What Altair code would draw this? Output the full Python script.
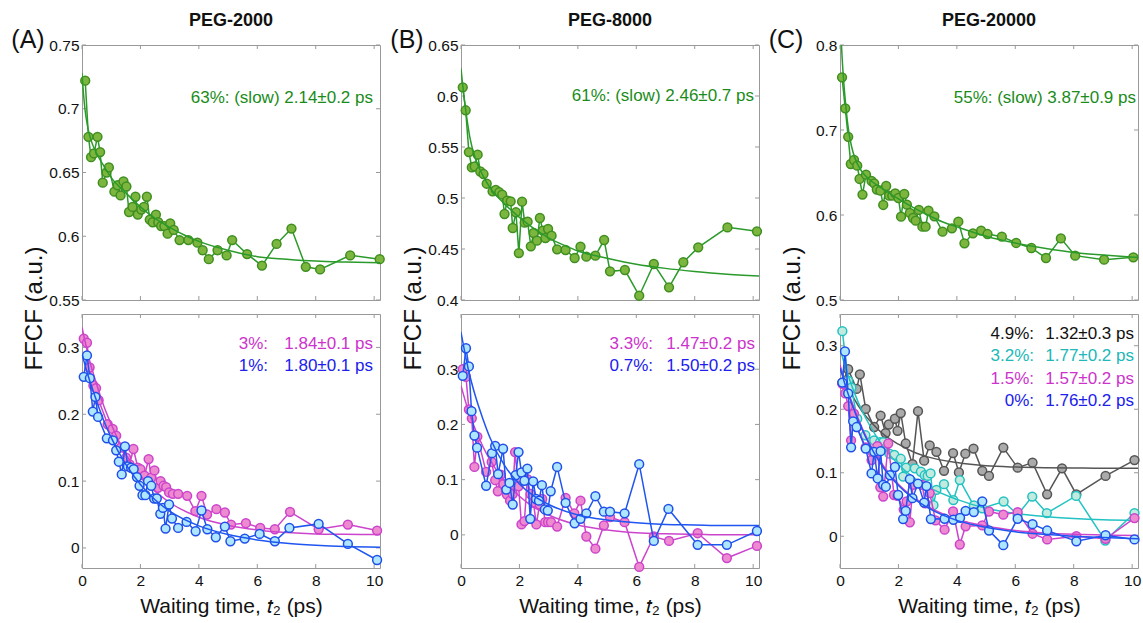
import altair as alt
import pandas as pd

# ---------------- PEG-2000 ----------------
a_slow_t = [0.11, 0.22, 0.31, 0.41, 0.53, 0.62, 0.71, 0.84, 0.92, 1.11, 1.22, 1.32, 1.42, 1.52, 1.61,
            1.73, 1.83, 1.91, 2.03, 2.12, 2.22, 2.32, 2.42, 2.53, 2.61, 2.71, 2.82, 2.93, 3.02, 3.14,
            3.34, 3.64, 3.95, 4.13, 4.34, 4.64, 4.95, 5.14, 5.65, 6.16, 6.66, 7.17, 7.66, 8.15, 9.18, 10.19]
a_slow_v = [0.722, 0.678, 0.662, 0.665, 0.678, 0.666, 0.642, 0.650, 0.654, 0.635, 0.640, 0.632, 0.643, 0.639, 0.619,
            0.623, 0.631, 0.617, 0.621, 0.623, 0.631, 0.613, 0.611, 0.617, 0.611, 0.608, 0.608, 0.602, 0.610, 0.605,
            0.597, 0.597, 0.595, 0.589, 0.582, 0.589, 0.585, 0.597, 0.586, 0.577, 0.594, 0.606, 0.576, 0.574, 0.585, 0.582]
a_slow_fit_t = [0, 0.05, 0.1, 0.2, 0.3, 0.5, 0.75, 1, 1.5, 2, 2.5, 3, 3.5, 4, 5, 6, 7, 8, 9, 10.2]
a_slow_fit_v = [0.728, 0.712, 0.700, 0.685, 0.676, 0.665, 0.655, 0.646, 0.634, 0.623, 0.614, 0.607, 0.601, 0.596,
                0.589, 0.584, 0.582, 0.5805, 0.5798, 0.5793]

a_3_t = [0.06, 0.17, 0.26, 0.39, 0.48, 0.57, 0.88, 1.05, 1.17, 1.32, 1.51, 1.63, 1.76, 1.91, 2.0,
         2.14, 2.28, 2.37, 2.48, 2.6, 2.69, 2.79, 2.88, 2.98, 3.11, 3.29, 3.6, 3.88, 4.09, 4.28,
         4.6, 4.89, 5.1, 5.61, 6.1, 6.6, 7.12, 8.1, 9.1, 10.1]
a_3_v = [0.313, 0.307, 0.27, 0.243, 0.239, 0.221, 0.185, 0.178, 0.168, 0.15, 0.135, 0.125, 0.148, 0.12, 0.118,
         0.108, 0.133, 0.105, 0.116, 0.09, 0.10, 0.093, 0.091, 0.083, 0.081, 0.081, 0.078, 0.055, 0.078, 0.05,
         0.058, 0.053, 0.035, 0.037, 0.03, 0.028, 0.054, 0.028, 0.035, 0.026]
a_1_t = [0.06, 0.17, 0.27, 0.37, 0.46, 0.55, 0.85, 1.06, 1.17, 1.26, 1.36, 1.47, 1.57, 1.68, 1.77,
         1.88, 1.97, 2.07, 2.17, 2.26, 2.37, 2.47, 2.56, 2.68, 2.77, 2.86, 2.98, 3.08, 3.29, 3.58,
         3.89, 4.09, 4.29, 4.58, 4.89, 5.08, 5.57, 6.08, 6.6, 7.1, 8.1, 9.1, 10.1]
a_1_v = [0.256, 0.288, 0.254, 0.204, 0.226, 0.196, 0.164, 0.161, 0.146, 0.129, 0.11, 0.152, 0.122, 0.12, 0.118,
         0.106, 0.093, 0.079, 0.079, 0.10, 0.093, 0.074, 0.074, 0.051, 0.06, 0.029, 0.065, 0.044, 0.03, 0.039,
         0.025, 0.056, 0.028, 0.016, 0.032, 0.01, 0.014, 0.021, 0.01, 0.03, 0.036, 0.006, -0.018]
fit_t = [0, 0.25, 0.5, 0.75, 1, 1.5, 2, 2.5, 3, 4, 5, 6, 7, 8, 9, 10.2]
a_3_fit_v = [0.33, 0.282, 0.245, 0.212, 0.185, 0.14, 0.108, 0.085, 0.068, 0.046, 0.034, 0.027, 0.023, 0.021, 0.0205, 0.02]
a_1_fit_v = [0.29, 0.252, 0.22, 0.19, 0.165, 0.125, 0.095, 0.072, 0.055, 0.033, 0.02, 0.012, 0.007, 0.004, 0.002, 0.001]

# ---------------- PEG-8000 ----------------
b_slow_t = [0.06, 0.16, 0.27, 0.37, 0.47, 0.57, 0.66, 0.77, 0.88, 1.08, 1.19, 1.31, 1.41, 1.49, 1.58,
            1.7, 1.77, 1.88, 1.98, 2.09, 2.18, 2.28, 2.39, 2.49, 2.6, 2.7, 2.8, 2.89, 2.98, 3.1,
            3.29, 3.58, 3.89, 4.09, 4.29, 4.6, 4.9, 5.1, 5.61, 6.1, 6.6, 7.12, 7.61, 8.12, 9.12, 10.13]
b_slow_v = [0.6085, 0.586, 0.545, 0.530, 0.531, 0.5425, 0.526, 0.5235, 0.514, 0.5065, 0.508, 0.5056, 0.5033, 0.4843, 0.4974,
            0.4967, 0.4706, 0.486, 0.446, 0.4964, 0.4758, 0.4768, 0.4526, 0.4657, 0.4582, 0.4804, 0.468, 0.4608, 0.4696, 0.4631,
            0.4497, 0.449, 0.4412, 0.4523, 0.4425, 0.4435, 0.4588, 0.4281, 0.4294, 0.4042, 0.4353, 0.4124, 0.437, 0.4516, 0.4712, 0.4673]
b_slow_fit_t = [0, 0.1, 0.2, 0.3, 0.5, 0.75, 1, 1.5, 2, 2.5, 3, 3.5, 4, 5, 6, 7, 8, 9, 10.2]
b_slow_fit_v = [0.627, 0.600, 0.578, 0.560, 0.538, 0.522, 0.510, 0.494, 0.481, 0.470, 0.461, 0.454, 0.448,
                0.441, 0.435, 0.431, 0.428, 0.4255, 0.4235]

b_33_t = [0.06, 0.17, 0.27, 0.37, 0.46, 0.56, 0.86, 1.05, 1.17, 1.26, 1.36, 1.45, 1.57, 1.68, 1.77,
          1.85, 1.97, 2.07, 2.17, 2.27, 2.38, 2.48, 2.58, 2.69, 2.78, 2.88, 2.98, 3.08, 3.29, 3.58,
          3.88, 4.09, 4.29, 4.6, 4.89, 5.1, 5.6, 6.1, 6.6, 7.12, 8.1, 9.1, 10.13]
b_33_v = [0.30, 0.286, 0.227, 0.211, 0.123, 0.178, 0.114, 0.132, 0.099, 0.079, 0.109, 0.092, 0.073, 0.062, 0.074,
          0.150, 0.088, 0.019, 0.025, 0.101, 0.074, 0.058, 0.019, 0.055, 0.065, 0.023, 0.023, 0.023, 0.015, 0.067,
          0.039, 0.062, -0.003, -0.025, 0.017, 0.032, 0.023, -0.058, -0.003, -0.011, 0.003, -0.042, -0.02]
b_07_t = [0.06, 0.17, 0.27, 0.36, 0.46, 0.55, 0.86, 1.06, 1.17, 1.27, 1.44, 1.55, 1.66, 1.77, 1.87,
          1.97, 2.07, 2.17, 2.27, 2.37, 2.47, 2.57, 2.67, 2.77, 2.87, 2.97, 3.07, 3.29, 3.58, 3.89,
          4.09, 4.29, 4.6, 4.89, 5.1, 5.6, 6.1, 6.6, 7.1, 8.1, 9.1, 10.13]
b_07_v = [0.288, 0.338, 0.305, 0.224, 0.18, 0.158, 0.089, 0.148, 0.161, 0.11, 0.156, 0.082, 0.094, 0.055, 0.108,
          0.150, 0.113, 0.098, 0.12, 0.029, 0.097, 0.065, 0.062, 0.09, 0.046, 0.044, 0.079, 0.123, 0.058, 0.021,
          0.029, 0.039, 0.07, 0.042, 0.042, 0.039, 0.128, -0.011, 0.047, -0.018, -0.018, 0.007]
b_33_fit_v = [0.27, 0.225, 0.19, 0.16, 0.135, 0.097, 0.07, 0.05, 0.036, 0.018, 0.009, 0.004, 0.002, 0.001, 0.0, 0.0]
b_07_fit_v = [0.367, 0.30, 0.25, 0.21, 0.175, 0.125, 0.092, 0.07, 0.055, 0.036, 0.027, 0.022, 0.019, 0.018, 0.017, 0.017]

# ---------------- PEG-20000 ----------------
c_slow_t = [0.07, 0.18, 0.28, 0.37, 0.48, 0.59, 0.67, 0.77, 0.89, 1.08, 1.17, 1.26, 1.38, 1.48, 1.58,
            1.68, 1.79, 1.89, 2.0, 2.09, 2.2, 2.29, 2.39, 2.5, 2.59, 2.7, 2.82, 2.93, 3.03, 3.23,
            3.51, 3.83, 4.05, 4.26, 4.55, 4.83, 5.05, 5.54, 6.03, 6.55, 7.05, 7.56, 8.05, 9.04, 10.04]
c_slow_v = [0.762, 0.7255, 0.692, 0.660, 0.6647, 0.658, 0.6424, 0.624, 0.6475, 0.640, 0.6373, 0.630, 0.6286, 0.6118, 0.6341,
            0.6227, 0.6227, 0.6255, 0.620, 0.598, 0.6247, 0.6122, 0.6024, 0.5965, 0.5933, 0.606, 0.5863, 0.5863, 0.605, 0.5984,
            0.5804, 0.5843, 0.5922, 0.5667, 0.5784, 0.5816, 0.5776, 0.5745, 0.5671, 0.5612, 0.5494, 0.5725, 0.5522, 0.5475, 0.5502]
c_slow_fit_t = [0, 0.05, 0.1, 0.2, 0.3, 0.4, 0.5, 0.75, 1, 1.5, 2, 2.5, 3, 3.5, 4, 5, 6, 7, 8, 9, 10.2]
c_slow_fit_v = [0.84, 0.80, 0.77, 0.728, 0.698, 0.68, 0.668, 0.651, 0.642, 0.63, 0.619, 0.609, 0.600, 0.592,
                0.586, 0.575, 0.567, 0.561, 0.556, 0.553, 0.550]

c_49_t = [0.08, 0.28, 0.57, 0.68, 0.88, 1.17, 1.39, 1.56, 1.67, 1.88, 1.97, 2.08, 2.25, 2.48, 2.67,
          2.88, 3.07, 3.3, 3.56, 3.87, 4.07, 4.29, 4.57, 4.87, 5.1, 5.59, 6.08, 6.59, 7.09, 7.6,
          8.09, 9.09, 10.08]
c_49_v = [0.242, 0.263, 0.232, 0.255, 0.2005, 0.172, 0.19, 0.1625, 0.176, 0.185, 0.166, 0.194, 0.146, 0.1135, 0.197,
          0.119, 0.143, 0.133, 0.103, 0.131, 0.1005, 0.130, 0.138, 0.103, 0.095, 0.1396, 0.108, 0.116, 0.066, 0.107,
          0.066, 0.095, 0.12]
c_32_t = [0.08, 0.28, 0.39, 0.59, 0.87, 1.17, 1.37, 1.48, 1.69, 1.86, 2.08, 2.16, 2.26, 2.56, 2.77,
          2.9, 3.0, 3.1, 3.2, 3.3, 3.56, 3.88, 4.1, 4.58, 4.87, 5.6, 6.08, 6.58, 7.08, 8.08,
          9.08, 10.08]
c_32_v = [0.323, 0.245, 0.234, 0.185, 0.159, 0.151, 0.148, 0.148, 0.13, 0.128, 0.122, 0.094, 0.108, 0.107, 0.1016,
          0.096, 0.095, 0.099, 0.049, 0.073, 0.082, 0.057, 0.0885, 0.0484, 0.044, 0.0547, 0.034, 0.0625, 0.0365, 0.0635,
          -0.0068, 0.0365]
c_15_t = [0.08, 0.18, 0.28, 0.38, 0.48, 0.58, 0.88, 1.08, 1.28, 1.38, 1.48, 1.65, 1.85, 1.97, 2.18,
          2.28, 2.39, 2.5, 2.81, 2.92, 3.07, 3.27, 3.58, 3.87, 4.1, 4.3, 4.87, 5.1, 5.59, 6.08,
          6.59, 7.09, 8.09, 9.09, 10.08]
c_15_v = [0.24, 0.225, 0.205, 0.151, 0.193, 0.172, 0.14, 0.12, 0.142, 0.077, 0.0625, 0.146, 0.065, 0.0635, 0.042,
          0.0547, 0.022, 0.081, 0.081, 0.052, 0.068, 0.025, 0.0104, 0.039, -0.013, 0.0156, 0.017, 0.039, 0.034, 0.038,
          0.004, -0.005, 0.0, -0.004, 0.0286]
c_0_t = [0.08, 0.17, 0.28, 0.38, 0.45, 0.57, 0.88, 1.08, 1.17, 1.29, 1.39, 1.48, 1.57, 1.71, 1.88,
         1.99, 2.16, 2.25, 2.39, 2.48, 2.67, 2.88, 2.96, 3.11, 3.58, 3.88, 4.11, 4.3, 4.58, 4.87,
         5.1, 5.59, 6.08, 6.59, 7.09, 8.09, 9.09, 10.08]
c_0_v = [0.242, 0.291, 0.225, 0.14, 0.181, 0.172, 0.138, 0.099, 0.133, 0.091, 0.134, 0.081, 0.078, 0.096, 0.109,
         0.065, 0.027, 0.04, 0.09, 0.06, 0.083, 0.053, 0.079, 0.027, 0.0276, 0.026, 0.029, 0.04, 0.038, 0.055,
         0.009, -0.014, 0.0276, 0.019, 0.009, -0.008, 0.0016, -0.005]
c_49_fit_v = [0.265, 0.238, 0.215, 0.197, 0.183, 0.16, 0.145, 0.133, 0.125, 0.116, 0.111, 0.109, 0.108, 0.1075, 0.107, 0.107]
c_32_fit_v = [0.295, 0.257, 0.225, 0.198, 0.176, 0.14, 0.113, 0.093, 0.078, 0.058, 0.044, 0.036, 0.031, 0.028, 0.026, 0.025]
c_15_fit_v = [0.27, 0.232, 0.2, 0.171, 0.147, 0.11, 0.082, 0.062, 0.047, 0.027, 0.016, 0.009, 0.005, 0.003, 0.002, 0.001]
c_0_fit_v = [0.265, 0.228, 0.197, 0.169, 0.145, 0.107, 0.08, 0.06, 0.045, 0.025, 0.014, 0.007, 0.003, 0.0, -0.002, -0.004]

# ---------------- text ----------------
titles = ["PEG-2000", "PEG-8000", "PEG-20000"]
tags = ["(A)", "(B)", "(C)"]
slow_notes = ["63%: (slow) 2.14±0.2 ps", "61%: (slow) 2.46±0.7 ps", "55%: (slow) 3.87±0.9 ps"]
a_keys = ["3%:", "1%:"]
a_vals = ["1.84±0.1 ps", "1.80±0.1 ps"]
b_keys = ["3.3%:", "0.7%:"]
b_vals = ["1.47±0.2 ps", "1.50±0.2 ps"]
c_keys = ["4.9%:", "3.2%:", "1.5%:", "0%:"]
c_vals = ["1.32±0.3 ps", "1.77±0.2 ps", "1.57±0.2 ps", "1.76±0.2 ps"]

# ---------------- styling ----------------
W = 298
H_TOP = 255
H_BOT = 254
FONT = "Liberation Sans"
FRAME = "#999999"
NOTE_SIZE = 17
X_TICKS = [0, 2, 4, 6, 8, 10]
X_SCALE = alt.Scale(domain=[0, 10.2], nice=False, zero=False)

STYLE = {
    "green": dict(line="#2a9a2a", fill="#7db63f", edge="#3f8f1f", text="#1a8c1a"),
    "pink": dict(line="#cc44cc", fill="#ee8ad0", edge="#cc44cc", text="#cc33cc"),
    "blue": dict(line="#1f55f0", fill="#aee6ff", edge="#1f4fe8", text="#2020ee"),
    "gray": dict(line="#555555", fill="#aaaaaa", edge="#555555", text="#111111"),
    "cyan": dict(line="#22c2c2", fill="#c2eadf", edge="#22c2c2", text="#20b8b8"),
}


def series_layers(t, v, ft, fv, style, x_enc, y_enc):
    s = STYLE[style]
    pts = pd.DataFrame({"t": t, "v": v})
    fit = pd.DataFrame({"t": ft, "v": fv})
    return [
        alt.Chart(pts).mark_line(color=s["line"], strokeWidth=1.5).encode(x=x_enc, y=y_enc),
        alt.Chart(pts).mark_circle(size=78, fill=s["fill"], stroke=s["edge"], strokeWidth=1.5,
                                   opacity=1).encode(x=x_enc, y=y_enc),
        alt.Chart(fit).mark_line(color=s["line"], strokeWidth=1.5, interpolate="monotone",
                                 clip=True).encode(x=x_enc, y=y_enc),
    ]


def frame_ticks(x_enc, y_enc, y_ticks, h):
    xt = pd.DataFrame({"t": X_TICKS})
    yt = pd.DataFrame({"v": y_ticks})
    return [
        alt.Chart(xt).mark_rule(color=FRAME).encode(x=x_enc, y=alt.value(0), y2=alt.value(4)),
        alt.Chart(xt).mark_rule(color=FRAME).encode(x=x_enc, y=alt.value(h), y2=alt.value(h - 4)),
        alt.Chart(yt).mark_rule(color=FRAME).encode(y=y_enc, x=alt.value(0), x2=alt.value(4)),
        alt.Chart(yt).mark_rule(color=FRAME).encode(y=y_enc, x=alt.value(W), x2=alt.value(W - 4)),
    ]


def text_layer(label, x, y, color, size=NOTE_SIZE, align="right", weight="normal"):
    return alt.Chart(pd.DataFrame({"label": [label]})).mark_text(
        align=align, baseline="middle", font=FONT, fontSize=size, color=color, fontWeight=weight
    ).encode(x=alt.value(x), y=alt.value(y), text="label:N")


def top_panel(i, t, v, ft, fv, y_domain, y_ticks, note_x, note_y):
    x_enc = alt.X("t:Q", scale=X_SCALE, axis=None)
    y_enc = alt.Y("v:Q", scale=alt.Scale(domain=y_domain, nice=False, zero=False),
                  axis=alt.Axis(values=y_ticks, format="~g", ticks=False, domain=False, grid=False,
                                labelFontSize=15.5, labelPadding=3, title="FFCF (a.u.)",
                                titleFontSize=24, titleFontWeight="normal", titleX=-48,
                                titleY=H_TOP + 8, titleBaseline="middle"))
    layers = frame_ticks(x_enc, y_enc, y_ticks, H_TOP)
    layers += series_layers(t, v, ft, fv, "green", x_enc, y_enc)
    layers.append(text_layer(slow_notes[i], note_x, note_y, STYLE["green"]["text"]))
    layers.append(text_layer(titles[i], W / 2, -24, "#111111", size=18, align="center", weight="bold"))
    layers.append(text_layer(tags[i], -54, -5, "#111111", size=25, align="center"))
    return alt.layer(*layers).properties(width=W, height=H_TOP)


def bottom_panel(series, y_domain, keys, vals, key_x, val_x, line_y):
    x_enc = alt.X("t:Q", scale=X_SCALE,
                  axis=alt.Axis(values=X_TICKS, ticks=False, domain=False, grid=False,
                                labelFontSize=15.5, labelPadding=5, labelFlush=False,
                                title="Waiting time, 𝑡₂ (ps)", titleFontSize=21,
                                titleFontWeight="normal", titlePadding=7))
    y_ticks = [0, 0.1, 0.2, 0.3]
    y_enc = alt.Y("v:Q", scale=alt.Scale(domain=y_domain, nice=False, zero=False),
                  axis=alt.Axis(values=y_ticks, format="~g", ticks=False, domain=False, grid=False,
                                labelFontSize=15.5, labelPadding=3, title=None))
    layers = frame_ticks(x_enc, y_enc, y_ticks, H_BOT)
    for (t, v, fv, style) in series:
        layers += series_layers(t, v, fit_t, fv, style, x_enc, y_enc)
    # legend rows are listed top to bottom in the same order as the series
    for k, (key, val, (_, _, _, style)) in enumerate(zip(keys, vals, series)):
        c = STYLE[style]["text"]
        layers.append(text_layer(key, key_x, line_y[k], c))
        layers.append(text_layer(val, val_x, line_y[k], c))
    return alt.layer(*layers).properties(width=W, height=H_BOT)


top_a = top_panel(0, a_slow_t, a_slow_v, a_slow_fit_t, a_slow_fit_v, [0.55, 0.75],
                  [0.55, 0.6, 0.65, 0.7, 0.75], 291, 53)
bot_a = bottom_panel([(a_3_t, a_3_v, a_3_fit_v, "pink"), (a_1_t, a_1_v, a_1_fit_v, "blue")],
                     [-0.03, 0.35], a_keys, a_vals, 186, 291, [30, 52])

top_b = top_panel(1, b_slow_t, b_slow_v, b_slow_fit_t, b_slow_fit_v, [0.4, 0.65],
                  [0.4, 0.45, 0.5, 0.55, 0.6, 0.65], 293, 51)
bot_b = bottom_panel([(b_33_t, b_33_v, b_33_fit_v, "pink"), (b_07_t, b_07_v, b_07_fit_v, "blue")],
                     [-0.06, 0.4], b_keys, b_vals, 192, 294, [30, 52])

top_c = top_panel(2, c_slow_t, c_slow_v, c_slow_fit_t, c_slow_fit_v, [0.5, 0.8],
                  [0.5, 0.6, 0.7, 0.8], 296, 53)
bot_c = bottom_panel([(c_49_t, c_49_v, c_49_fit_v, "gray"), (c_32_t, c_32_v, c_32_fit_v, "cyan"),
                      (c_15_t, c_15_v, c_15_fit_v, "pink"), (c_0_t, c_0_v, c_0_fit_v, "blue")],
                     [-0.05, 0.35], c_keys, c_vals, 194, 294, [20, 42, 65, 87])

chart = alt.concat(
    top_a, top_b, top_c, bot_a, bot_b, bot_c,
    columns=3, spacing={"row": 14, "column": 81}, bounds="flush",
).properties(
    padding={"left": 10, "top": 11, "right": 0, "bottom": 0},
    background="white",
).configure_view(
    stroke=FRAME, strokeWidth=1
).configure_axis(
    labelFont=FONT, titleFont=FONT, labelColor="#111111", titleColor="#111111"
)

chart.save("out.html", embed_options={"renderer": "svg", "actions": False})
